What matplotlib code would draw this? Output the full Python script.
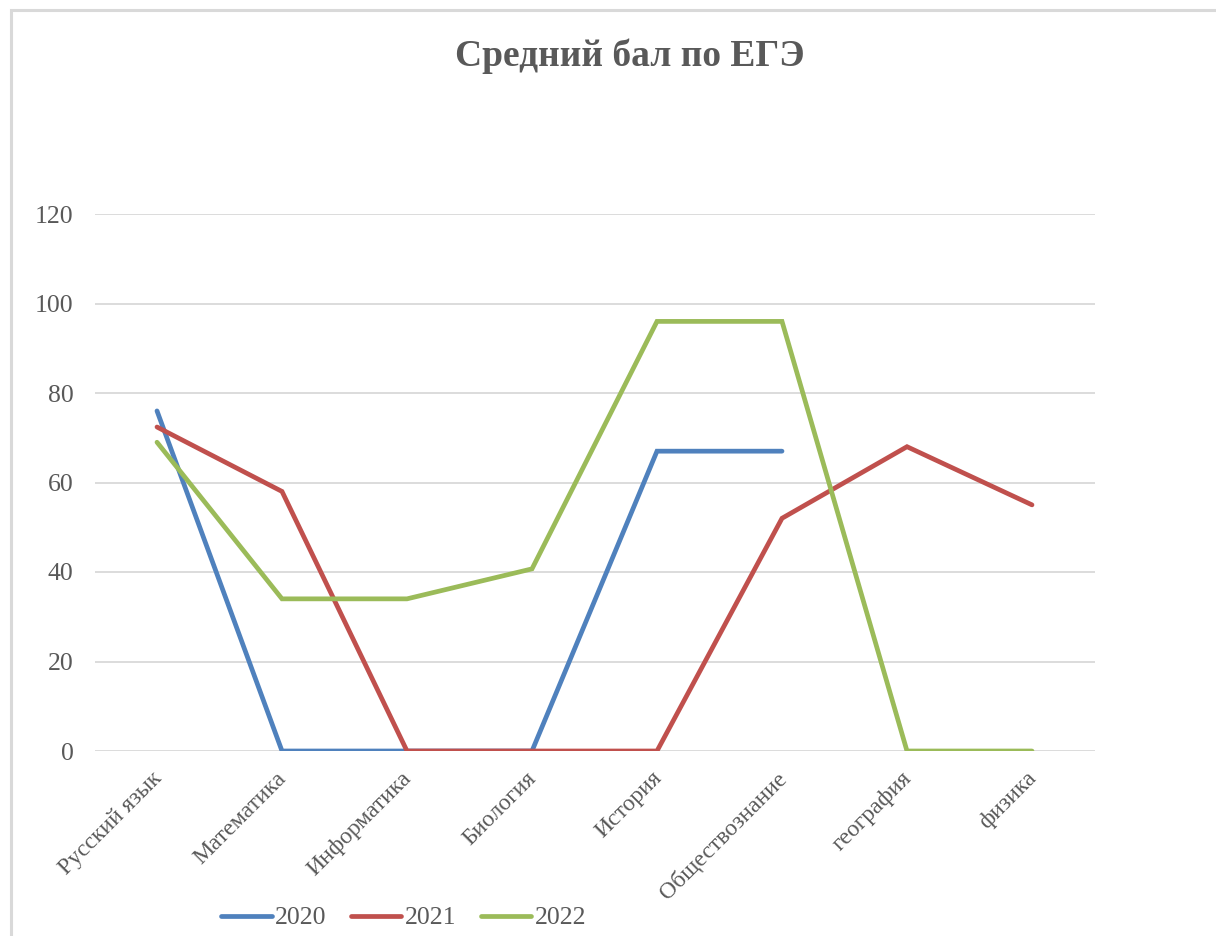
import numpy as np
from matplotlib import pyplot as plt
from matplotlib.patches import Rectangle
from matplotlib.transforms import ScaledTranslation

plt.rcParams['font.family'] = ['Liberation Serif', 'DejaVu Serif']

subjects = ['Русский язык', 'Математика', 'Информатика', 'Биология', 'История',
            'Обществознание', 'география', 'физика']
y2020 = [76, 0, 0, 0, 67, 67, np.nan, np.nan]
y2021 = [72.4, 58, 0, 0, 0, 52, 68, 55]
y2022 = [69, 34, 34, 40.7, 96, 96, 0, 0]
years = ['2020', '2021', '2022']
colors = ['#4F81BD', '#C0504D', '#9BBB59']
grey = '#595959'

fig = plt.figure(figsize=(12.16, 9.36), dpi=100)
# chart border (the picture is a crop of the chart area)
fig.patches.append(Rectangle((10.5 / 1216, -0.1), 1.2, (925.5 / 936) + 0.1,
                             transform=fig.transFigure, fill=False,
                             edgecolor='#D9D9D9', linewidth=2.2))

ax = fig.add_axes([94.5 / 1216, (936 - 751) / 936, 1000 / 1216, 537 / 936])
x = np.arange(len(subjects))
for vals, lab, c in zip([y2020, y2021, y2022], years, colors):
    ax.plot(x, vals, color=c, linewidth=3.4, label=lab, solid_capstyle='round',
            solid_joinstyle='miter')

ax.set_xlim(-0.5, len(subjects) - 0.5)
ax.set_ylim(0, 120)
ax.set_yticks(range(0, 121, 20))
ax.yaxis.grid(True, color='#D9D9D9', linewidth=1.3)
ax.set_axisbelow(True)
for s in ax.spines.values():
    s.set_visible(False)
ax.tick_params(length=0, colors=grey, labelsize=18.5)
ax.tick_params(axis='y', pad=15)
ax.set_xticks(x)
ax.set_xticklabels(subjects, rotation=45, ha='right', va='top',
                   rotation_mode='anchor', color=grey, fontsize=17)
ax.tick_params(axis='x', pad=12)
shift = ScaledTranslation(-6 / 100, 0, fig.dpi_scale_trans)
for t in ax.get_xticklabels():
    t.set_transform(t.get_transform() + shift)

fig.text(630 / 1216, (936 - 56) / 936, 'Средний бал по ЕГЭ', ha='center', va='center',
         fontsize=27, fontweight='bold', color=grey)

fig.legend(loc='center', bbox_to_anchor=(404 / 1216, (936 - 918) / 936), ncol=3,
           frameon=False, fontsize=18.5, labelcolor=grey, handlelength=1.95,
           handletextpad=0.15, columnspacing=0.95)

fig.savefig('out.png', dpi=100)
